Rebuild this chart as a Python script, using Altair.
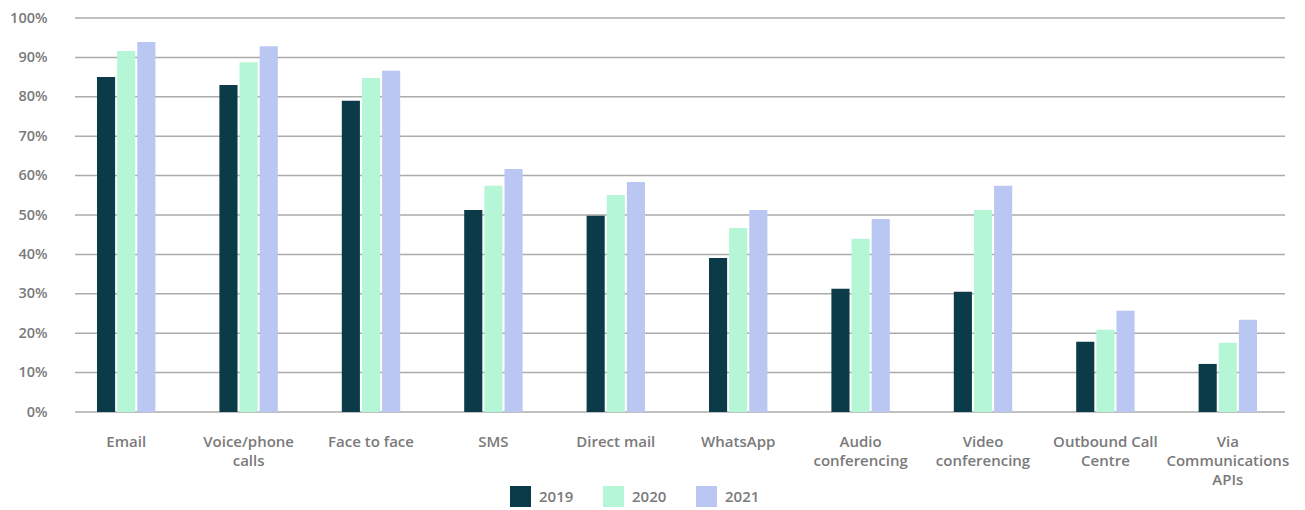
import altair as alt
import pandas as pd

categories = ["Email", "Voice/phone calls", "Face to face", "SMS", "Direct mail",
              "WhatsApp", "Audio conferencing", "Video conferencing",
              "Outbound Call Centre", "Via Communications APIs"]
years = ["2019", "2020", "2021"]
v2019 = [85.0, 83.0, 79.0, 51.3, 49.8, 39.1, 31.3, 30.5, 17.8, 12.2]
v2020 = [91.6, 88.8, 84.8, 57.4, 55.1, 46.7, 44.0, 51.3, 20.9, 17.6]
v2021 = [93.9, 92.8, 86.6, 61.7, 58.4, 51.3, 49.0, 57.4, 25.7, 23.4]
y_ticks = [0, 10, 20, 30, 40, 50, 60, 70, 80, 90, 100]
colors = ["#0b3a48", "#b5f6d6", "#bac7f3"]

rows = []
for yr, vals in zip(years, [v2019, v2020, v2021]):
    for c, v in zip(categories, vals):
        rows.append({"channel": c, "year": yr, "value": v})
df = pd.DataFrame(rows)
grid_df = pd.DataFrame({"tick": y_ticks})

label_expr = (
    "datum.label == 'Voice/phone calls' ? ['Voice/phone', 'calls'] : "
    "datum.label == 'Audio conferencing' ? ['Audio', 'conferencing'] : "
    "datum.label == 'Video conferencing' ? ['Video', 'conferencing'] : "
    "datum.label == 'Outbound Call Centre' ? ['Outbound Call', 'Centre'] : "
    "datum.label == 'Via Communications APIs' ? ['Via', 'Communications', 'APIs'] : "
    "datum.label"
)

font = "Open Sans"
gray = "#7a7a7a"
yscale = alt.Scale(domain=[0, 100], nice=False)

grid = alt.Chart(grid_df).mark_rule(color="#ababab", strokeWidth=1.5).encode(
    y=alt.Y("tick:Q", scale=yscale, title=None,
            axis=alt.Axis(values=y_ticks, labelExpr="datum.value + '%'",
                          ticks=False, domain=False, grid=False, labelOverlap=False,
                          labelPadding=18, labelFontSize=14.5,
                          labelColor=gray, labelFont=font, labelFontWeight=600)),
    x=alt.value(10),
    x2=alt.value(1220),
)

bars = alt.Chart(df).mark_bar().encode(
    x=alt.X("channel:N", sort=categories, title=None,
            scale=alt.Scale(paddingInner=0.49, paddingOuter=0.245),
            axis=alt.Axis(labelAngle=0, labelExpr=label_expr, ticks=False, domain=False,
                          grid=False, labelPadding=22, labelFontSize=15,
                          labelLineHeight=19, labelColor=gray, labelFont=font,
                          labelFontWeight=600, labelBaseline="top")),
    xOffset=alt.XOffset("year:N", sort=years,
                        scale=alt.Scale(paddingInner=0.1, paddingOuter=0.1)),
    y=alt.Y("value:Q", scale=yscale, title=None,
            axis=alt.Axis(values=y_ticks, labelExpr="datum.value + '%'",
                          ticks=False, domain=False, grid=False, labelOverlap=False,
                          labelPadding=18, labelFontSize=14.5,
                          labelColor=gray, labelFont=font, labelFontWeight=600)),
    color=alt.Color("year:N", sort=years,
                    scale=alt.Scale(domain=years, range=colors),
                    legend=alt.Legend(title=None, orient="none", legendX=445, legendY=468,
                                      direction="horizontal", symbolType="square",
                                      symbolSize=441, symbolStrokeWidth=0,
                                      labelFontSize=15, labelColor=gray, labelFont=font,
                                      labelFontWeight=600, columnPadding=29,
                                      labelOffset=8, padding=0)),
)

chart = alt.layer(grid, bars).properties(
    width=1224, height=394,
    autosize=alt.AutoSizeParams(type="none"),
    padding={"left": 65, "top": 18, "right": 16, "bottom": 98},
).configure_view(stroke=None)

chart.save("out.html", embed_options={"renderer": "svg", "actions": False})
